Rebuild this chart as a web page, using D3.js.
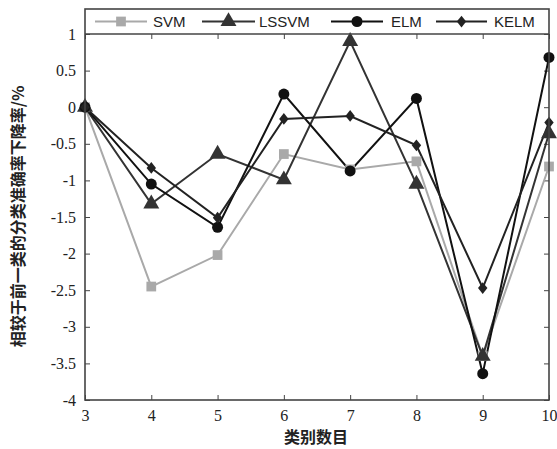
<!DOCTYPE html>
<html><head><meta charset="utf-8">
<script src="https://cdn.jsdelivr.net/npm/d3@7"></script>
<style>body{margin:0;background:#fff}</style>
</head><body>
<svg id="c" width="557" height="449"></svg>
<script>
const categories = [3,4,5,6,7,8,9,10];
const seriesNames = ["SVM","LSSVM","ELM","KELM"];
const svmValues   = [0,-2.45,-2.02,-0.64,-0.85,-0.74,-3.40,-0.81];
const lssvmValues = [0,-1.32,-0.64,-0.99,0.90,-1.05,-3.40,-0.36];
const elmValues   = [0,-1.05,-1.64,0.18,-0.87,0.12,-3.64,0.68];
const kelmValues  = [0,-0.83,-1.51,-0.16,-0.12,-0.52,-2.47,-0.21];
const yTicks = [1,0.5,0,-0.5,-1,-1.5,-2,-2.5,-3,-3.5,-4];
const xTicks = [3,4,5,6,7,8,9,10];
const xTitle = "类别数目";
const yTitle = "相较于前一类的分类准确率下降率/%";

const series = [
  {name:seriesNames[0], values:svmValues, color:"#a9a9a9", sym:d3.symbolSquare, size:95},
  {name:seriesNames[1], values:lssvmValues, color:"#333", sym:d3.symbolTriangle, size:110},
  {name:seriesNames[2], values:elmValues, color:"#111", sym:d3.symbolCircle, size:95},
  {name:seriesNames[3], values:kelmValues, color:"#222", sym:d3.symbolDiamond2, size:88}
];
const symTf = s => s.sym===d3.symbolDiamond2 ? " scale(0.8,1)" : "";

const svg = d3.select("#c");
const L=85, R=549, T=9, B=400, yTop=34;
const x = d3.scaleLinear().domain([3,10]).range([L,R]);
const y = d3.scaleLinear().domain([-4,1]).range([B,yTop]);
const frame="#444";
const serifFont = "'Liberation Serif'";

const gL = svg.append("g").attr("transform",`translate(${L},0)`)
  .call(d3.axisLeft(y).tickValues(yTicks).tickSize(-5).tickPadding(9).tickFormat(d=>String(d)));
const gB = svg.append("g").attr("transform",`translate(0,${B})`)
  .call(d3.axisBottom(x).tickValues(xTicks).tickSize(-5).tickPadding(10).tickFormat(d=>String(d)));
const gR = svg.append("g").attr("transform",`translate(${R},0)`)
  .call(d3.axisRight(y).tickValues(yTicks).tickSize(-5).tickFormat(""));
const gT = svg.append("g").attr("transform",`translate(0,${yTop})`)
  .call(d3.axisTop(x).tickValues(xTicks).tickSize(-5).tickFormat(""));
[gL,gB,gR,gT].forEach(g=>{
  g.attr("font-family",serifFont).attr("font-size",16);
  g.select(".domain").remove();
  g.selectAll(".tick line").attr("stroke",frame).attr("stroke-width",1);
  g.selectAll(".tick text").style("font-family",serifFont).style("font-size","16px").attr("fill","#222");
});

const line = d3.line().x((d,i)=>x(categories[i])).y(d=>y(d));
series.forEach(s=>{
  svg.append("path").datum(s.values).attr("d",line)
    .attr("fill","none").attr("stroke",s.color).attr("stroke-width",2);
});
series.forEach(s=>{
  svg.selectAll(null).data(s.values).enter().append("path")
    .attr("d",d3.symbol().type(s.sym).size(s.size))
    .attr("transform",(d,i)=>`translate(${x(categories[i])},${y(d)})${symTf(s)}`)
    .attr("fill",s.color);
});

svg.append("rect").attr("x",L).attr("y",T).attr("width",R-L).attr("height",B-T)
  .attr("fill","none").attr("stroke",frame).attr("stroke-width",1.6);
svg.append("line").attr("x1",L).attr("x2",R).attr("y1",yTop).attr("y2",yTop)
  .attr("stroke",frame).attr("stroke-width",1.4);

const legPos = [{x1:95,x2:147,tx:153},{x1:202,x2:255,tx:259},{x1:331,x2:383,tx:391},{x1:436,x2:487,tx:494}];
series.forEach((s,i)=>{
  const p=legPos[i], cy=21.5;
  svg.append("line").attr("x1",p.x1).attr("x2",p.x2).attr("y1",cy).attr("y2",cy)
    .attr("stroke",s.color).attr("stroke-width",2);
  svg.append("path").attr("d",d3.symbol().type(s.sym).size(s.size))
    .attr("transform",`translate(${(p.x1+p.x2)/2},${cy})${symTf(s)}`).attr("fill",s.color);
  svg.append("text").attr("x",p.tx).attr("y",cy+5.5).text(s.name)
    .style("font-family","'Liberation Sans'").style("font-size","15px").attr("fill","#222");
});

svg.append("text").attr("x",316).attr("y",443).attr("text-anchor","middle")
  .style("font-family","'Noto Sans CJK SC'").style("font-size","16px").style("font-weight","bold")
  .attr("fill","#222").text(xTitle);
svg.append("text").attr("transform",`translate(24,${(T+B)/2+12}) rotate(-90)`).attr("text-anchor","middle")
  .style("font-family","'Noto Sans CJK SC'").style("font-size","16px").style("font-weight","bold")
  .attr("fill","#222").text(yTitle);
</script>
</body></html>
